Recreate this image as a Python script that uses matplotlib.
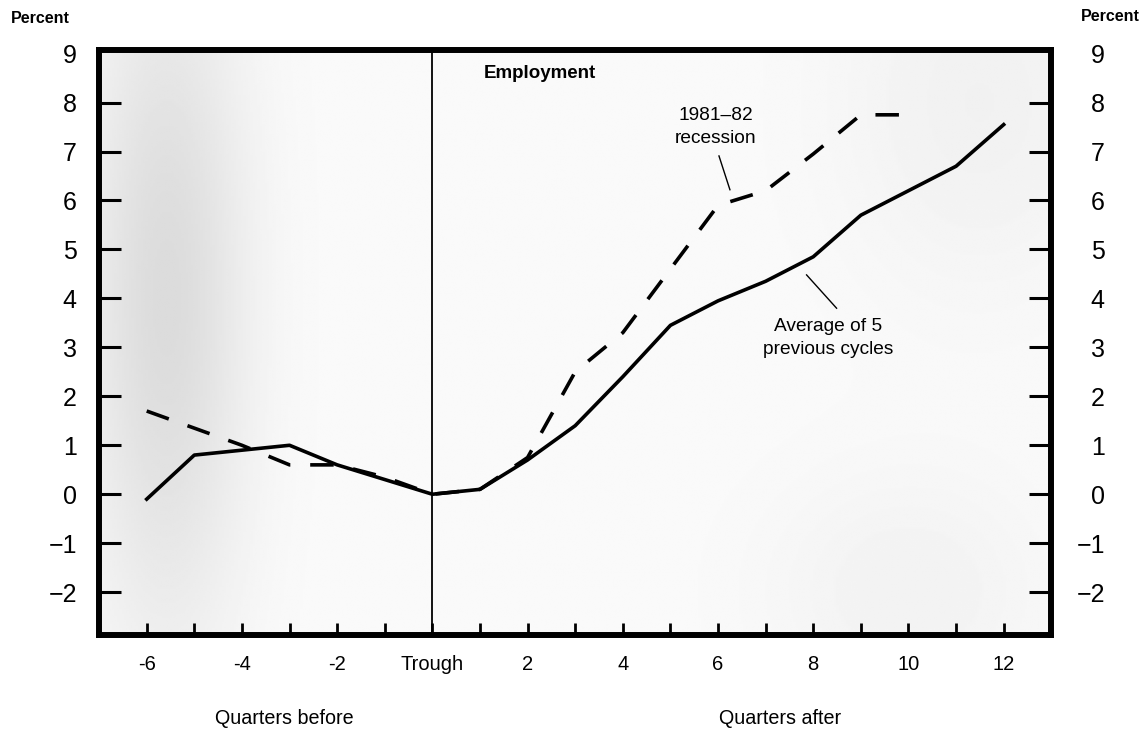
import numpy as np
import matplotlib
matplotlib.use("Agg")
import matplotlib.pyplot as plt
import matplotlib.transforms as mtransforms

plt.rcParams['font.family'] = ['Liberation Sans', 'DejaVu Sans']

# ---- data ----
quarters = [-6, -5, -4, -3, -2, -1, 0, 1, 2, 3, 4, 5, 6, 7, 8, 9, 10, 11, 12]
avg_prev = [-0.1, 0.8, 0.9, 1.0, 0.6, 0.3, 0.0, 0.1, 0.7, 1.4, 2.4, 3.45, 3.95, 4.35, 4.85, 5.7, 6.2, 6.7, 7.55]
rec_quarters = [-6, -5, -4, -3, -2, -1, 0, 1, 2, 3, 4, 5, 6, 7, 8, 9, 10]
rec_8182 = [1.7, 1.35, 1.0, 0.6, 0.6, 0.35, 0.0, 0.1, 0.75, 2.5, 3.3, 4.6, 5.9, 6.2, 6.95, 7.75, 7.75]
yticks = [-2, -1, 0, 1, 2, 3, 4, 5, 6, 7, 8, 9]
xtick_labels = {-6: '-6', -4: '-4', -2: '-2', 0: 'Trough', 2: '2', 4: '4',
                6: '6', 8: '8', 10: '10', 12: '12'}

fig = plt.figure(figsize=(11.39, 7.31), dpi=100)
ax = fig.add_axes([0.087, 0.131, 0.836, 0.801])
xlim = (-7, 13)
ylim = (-2.88, 9.08)

# stippled background approximation (smooth shading)
gx = np.linspace(xlim[0], xlim[1], 400)
gy = np.linspace(ylim[0], ylim[1], 300)
GX, GY = np.meshgrid(gx, gy)
shade = (0.12 * np.exp(-((GX + 5.6) / 1.7) ** 2 - ((GY - 4.0) / 7.0) ** 2)
         + 0.035 * np.exp(-((GX - 11.5) / 3.0) ** 2 - ((GY - 8.0) / 4.0) ** 2)
         + 0.03 * np.exp(-((GX - 10.0) / 3.0) ** 2 - ((GY + 2.0) / 2.5) ** 2)
         + 0.02)
ax.imshow(1 - shade, extent=(xlim[0], xlim[1], ylim[0], ylim[1]), origin='lower',
          cmap='gray', vmin=0, vmax=1, aspect='auto', zorder=0, interpolation='bilinear')

ax.axvline(0, color='black', lw=1.3, zorder=2)
ax.plot(quarters, avg_prev, color='black', lw=2.6, solid_joinstyle='round', zorder=3)
ax.plot(rec_quarters, rec_8182, color='black', lw=2.6, dashes=(6.5, 5.5), zorder=3)

ax.set_xlim(*xlim)
ax.set_ylim(*ylim)

ax.set_xticks(quarters)
ax.set_xticklabels([xtick_labels.get(q, '') for q in quarters])
ax.set_yticks(yticks)
ax.set_yticklabels([str(v).replace('-', '\u2212') for v in yticks])

ax.tick_params(axis='x', direction='in', length=9, width=2.0, pad=14, labelsize=14.5)
ax.tick_params(axis='y', direction='in', length=16, width=2.2, labelsize=18,
               left=True, right=True, labelleft=True, labelright=True, pad=16)
for t in ax.yaxis.get_major_ticks():
    t.label2.set_horizontalalignment('right')
    t.label2.set_transform(t.label2.get_transform()
                           + mtransforms.ScaledTranslation(22.5 / 72, 0, fig.dpi_scale_trans))
ax.yaxis.get_major_ticks()[-1].tick1line.set_visible(False)
ax.yaxis.get_major_ticks()[-1].tick2line.set_visible(False)

for s in ax.spines.values():
    s.set_linewidth(4.3)
    s.set_color('black')

# texts
fig.text(0.035, 0.975, 'Percent', fontsize=11.5, fontweight='bold', ha='center', va='center')
fig.text(0.975, 0.978, 'Percent', fontsize=11.5, fontweight='bold', ha='center', va='center')
ax.text(1.07, 8.6, 'Employment', fontsize=13.5, fontweight='bold', ha='left', va='center')

ax.text(5.95, 7.5, '1981\u201382\nrecession', fontsize=13.8, ha='center', va='center', linespacing=1.45)
ax.plot([6.02, 6.25], [6.91, 6.22], color='black', lw=1.0, zorder=3)
ax.text(8.32, 3.2, 'Average of 5\nprevious cycles', fontsize=13.8, ha='center', va='center', linespacing=1.45)
ax.plot([7.86, 8.49], [4.48, 3.80], color='black', lw=1.0, zorder=3)

fig.text(284 / 1139, 1 - 718 / 731, 'Quarters before', fontsize=14.2, ha='center', va='center')
fig.text(780 / 1139, 1 - 718 / 731, 'Quarters after', fontsize=14.2, ha='center', va='center')

fig.savefig('out.png', dpi=100)
